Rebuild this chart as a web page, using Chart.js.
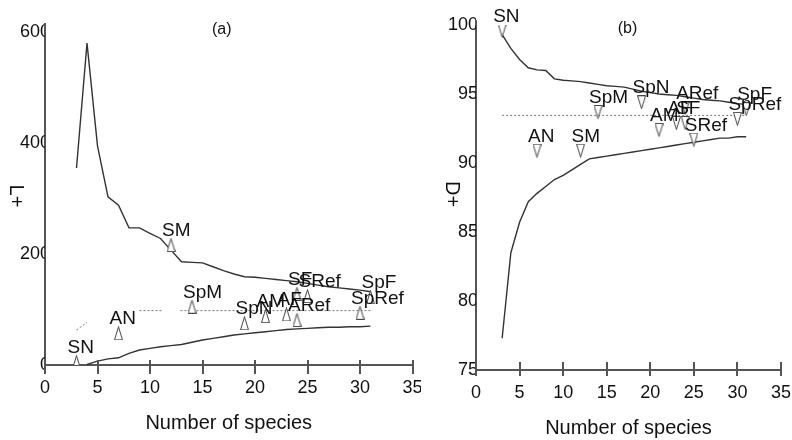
<!DOCTYPE html>
<html><head><meta charset="utf-8">
<script src="https://cdn.jsdelivr.net/npm/chart.js@4"></script>
<style>
html,body{margin:0;padding:0;background:#fff;width:792px;height:440px;overflow:hidden}
#ca{position:absolute;left:0;top:0}
#cb{position:absolute;left:423px;top:0}
</style></head><body>
<canvas id="ca" width="421" height="440"></canvas>
<canvas id="cb" width="369" height="440"></canvas>
<script>
// ---------- data ----------
const nSpecies = [3,4,5,6,7,8,9,10,11,12,13,14,15,16,17,18,19,20,21,22,23,24,25,26,27,28,29,30,31];
// panel (a): Lambda+ funnel
const lambdaUpper = [355,580,395,303,288,247,247,237,228,207,186,185,184,177,170,164,159,158,156,154,152,150,147,144,141,139,137,135,132];
const lambdaLower = [null,1,7,11,13,21,27,30,33,35,37,41,45,48,51,54,56,58,60,62,64,65,66,67,68,68,69,69,70];
const lambdaMean = 98;
const lambdaMeanX = [9,11.2,null,12.9,31];
const lambdaFragX = [3,4];
const lambdaFragY = [63,77];
// panel (b): Delta+ funnel
const deltaUpper = [99.3,98.3,97.5,96.9,96.75,96.7,96.1,96.0,95.95,95.9,95.8,95.7,95.6,95.55,95.5,95.35,95.2,95.1,95.0,94.95,94.9,94.8,94.7,94.6,94.55,94.5,94.4,94.3,94.25];
const deltaLower = [77.3,83.5,85.7,87.2,87.8,88.3,88.8,89.1,89.5,89.9,90.3,90.4,90.5,90.6,90.7,90.8,90.9,91.0,91.1,91.2,91.3,91.4,91.5,91.6,91.7,91.8,91.8,91.9,91.9];
const deltaMean = 93.45;
const deltaMeanX = [3,31];
// samples
const sampleNames   = ['SN','AN','SM','SpM','SpN','AM','AF','ARef','SF','SRef','SpF','SpRef'];
const sampleSpecies = [3,7,12,14,19,21,23,24,24,25,31,30];
const sampleLambda  = [5,57,216,105,75,88,91,81,128,124,122,94];
const sampleDelta   = [99.6,90.9,90.9,93.7,94.4,92.4,92.9,94.0,92.9,91.7,93.9,93.2];
const xTicks = [0,5,10,15,20,25,30,35];
const yTicksA = [0,200,400,600];
const yTicksB = [75,80,85,90,95,100];

// ---------- helpers ----------
const FONT = '"Liberation Sans", Arial, Helvetica, sans-serif';
Chart.defaults.font.family = FONT;
Chart.defaults.color = '#111';

function tri(up){
  const c = document.createElement('canvas'); c.width = 9; c.height = 14;
  const g = c.getContext('2d');
  g.strokeStyle = '#444'; g.lineWidth = 1; g.fillStyle = '#fff';
  g.beginPath();
  if (up) { g.moveTo(4.5,0.5); g.lineTo(8.5,13.5); g.lineTo(0.5,13.5); }
  else { g.moveTo(0.5,0.5); g.lineTo(8.5,0.5); g.lineTo(4.5,13.5); }
  g.closePath(); g.fill(); g.stroke();
  return c;
}
const pts = (xs, ys) => xs.map((x,i) => ({x: x, y: (x === null || ys[i] === null) ? null : ys[i]}));

const decorPlugin = {
  id: 'decor',
  afterDraw(chart, args, o) {
    const ctx = chart.ctx, ca = chart.chartArea;
    const xs = chart.scales.x;
    ctx.save();
    ctx.strokeStyle = '#555'; ctx.lineWidth = 2;
    xTicks.forEach(v => {
      const px = Math.round(xs.getPixelForValue(v));
      ctx.beginPath(); ctx.moveTo(px, ca.bottom - o.tickUp); ctx.lineTo(px, ca.bottom + o.tickDown); ctx.stroke();
    });
    ctx.beginPath(); ctx.moveTo(ca.left, ca.top - o.ext); ctx.lineTo(ca.left, ca.top); ctx.stroke();
    ctx.fillStyle = '#111';
    ctx.font = '16px ' + FONT; ctx.textAlign = 'center'; ctx.textBaseline = 'middle';
    ctx.fillText(o.panel, (ca.left + ca.right) / 2 + o.panelDx, o.panelY);
    ctx.font = '20px ' + FONT;
    ctx.translate(ca.left - o.yTitleOff, o.yTitleY);
    ctx.rotate(Math.PI / 2);
    ctx.fillText(o.yTitle, 0, 0);
    ctx.restore();
  },
  afterDatasetsDraw(chart) {
    const idx = chart.data.datasets.findIndex(d => d.sampleLabels);
    if (idx < 0) return;
    const meta = chart.getDatasetMeta(idx);
    const ctx = chart.ctx;
    ctx.save();
    ctx.font = '19px ' + FONT; ctx.fillStyle = '#111';
    ctx.textAlign = 'left'; ctx.textBaseline = 'alphabetic';
    meta.data.forEach((p, i) => ctx.fillText(chart.data.datasets[idx].sampleLabels[i], p.x - 9, p.y - 9));
    ctx.restore();
  }
};

function makeChart(el, cfg) {
  return new Chart(el, {
    type: 'line',
    data: { datasets: [
      { type: 'scatter', data: pts(sampleSpecies, cfg.samples), sampleLabels: sampleNames,
        pointStyle: tri(cfg.up), pointRadius: 6, showLine: false, borderColor: '#555', backgroundColor: '#fff' },
      { data: pts(nSpecies, cfg.upper), borderColor: '#333', borderWidth: 1.4, pointRadius: 0, tension: 0, fill: false },
      { data: pts(nSpecies, cfg.lower), borderColor: '#333', borderWidth: 1.4, pointRadius: 0, tension: 0, fill: false, spanGaps: false },
      { data: cfg.meanX.map(x => ({x: x, y: x === null ? null : cfg.mean})), borderColor: '#777', borderWidth: 1, borderDash: [2,2], pointRadius: 0, spanGaps: false },
      ...(cfg.frag ? [{ data: pts(cfg.frag[0], cfg.frag[1]), borderColor: '#777', borderWidth: 1, borderDash: [2,2], pointRadius: 0 }] : [])
    ]},
    options: {
      responsive: false, animation: false, devicePixelRatio: 1,
      layout: { padding: cfg.pad },
      plugins: { legend: { display: false }, tooltip: { enabled: false }, decor: cfg.decor },
      scales: {
        x: { type: 'linear', min: 0, max: 35,
          afterBuildTicks: s => { s.ticks = xTicks.map(v => ({value: v})); },
          ticks: { padding: 12, color: '#111', font: { size: 18 } },
          grid: { display: false, drawTicks: false }, border: { display: true, color: '#555', width: 2 },
          title: { display: true, text: 'Number of species', color: '#111', font: { size: 20 }, padding: { top: 0, bottom: cfg.titlePadB } },
          afterFit: s => { s.height = cfg.xh; s.paddingLeft = 0; s.paddingRight = 0; } },
        y: { type: 'linear', min: cfg.ymin, max: cfg.ymax,
          afterBuildTicks: s => { s.ticks = cfg.yTicks.map(v => ({value: v})); },
          ticks: { padding: cfg.yPad, color: '#111', font: { size: 18 } },
          grid: { display: false, drawTicks: false }, border: { display: true, color: '#555', width: 2 },
          afterFit: s => { s.width = cfg.yw; s.paddingTop = 0; s.paddingBottom = 0; } }
      }
    },
    plugins: [decorPlugin]
  });
}

makeChart(document.getElementById('ca'), {
  up: true, samples: sampleLambda, upper: lambdaUpper, lower: lambdaLower,
  mean: lambdaMean, meanX: lambdaMeanX, frag: [lambdaFragX, lambdaFragY],
  ymin: 0, ymax: 600, yTicks: yTicksA, yw: 45, xh: 75, yPad: -5, titlePadB: 5,
  pad: { top: 32, right: 8.5, left: 0, bottom: 0 },
  decor: { tickUp: 5, tickDown: 9, ext: 9, panel: '(a)', panelDx: -7, panelY: 30, yTitle: 'L+', yTitleOff: 29, yTitleY: 196 }
});
makeChart(document.getElementById('cb'), {
  up: false, samples: sampleDelta, upper: deltaUpper, lower: deltaLower,
  mean: deltaMean, meanX: deltaMeanX, frag: null,
  ymin: 75, ymax: 100, yTicks: yTicksB, yw: 53, xh: 70, yPad: -2, titlePadB: 0,
  pad: { top: 25, right: 11, left: 0, bottom: 0 },
  decor: { tickUp: 8, tickDown: 6, ext: 5, panel: '(b)', panelDx: -1, panelY: 29, yTitle: 'D+', yTitleOff: 24, yTitleY: 194 }
});
</script>
</body></html>
